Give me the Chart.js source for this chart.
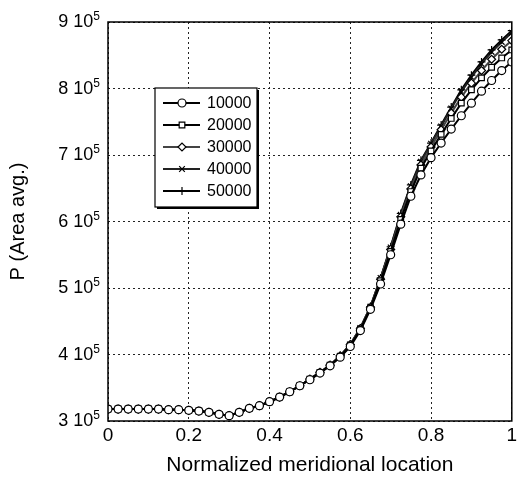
<!DOCTYPE html>
<html>
<head>
<meta charset="utf-8">
<script src="https://cdn.jsdelivr.net/npm/chart.js@4"></script>
<style>
  body { margin: 0; background: #fff; }
  #wrap { width: 517px; height: 491px; }
</style>
</head>
<body>
<div id="wrap"><canvas id="pChart" width="517" height="491"></canvas></div>
<script>
// Normalized meridional location
const xLoc = [0, 0.025, 0.05, 0.075, 0.1, 0.125, 0.15, 0.175, 0.2, 0.225, 0.25, 0.275, 0.3, 0.325, 0.35, 0.375, 0.4,
  0.425, 0.45, 0.475, 0.5, 0.525, 0.55, 0.575, 0.6, 0.625, 0.65, 0.675, 0.7, 0.725, 0.75, 0.775, 0.8, 0.825, 0.85,
  0.875, 0.9, 0.925, 0.95, 0.975, 1];

// Area averaged pressure, in units of 10^5
const p10000 = [3.18, 3.18, 3.18, 3.18, 3.18, 3.18, 3.17, 3.17, 3.16, 3.15, 3.13, 3.10, 3.08, 3.13, 3.19, 3.23, 3.29,
  3.36, 3.44, 3.53, 3.62, 3.72, 3.83, 3.96, 4.12, 4.36, 4.68, 5.06, 5.50, 5.96, 6.38, 6.70, 6.96, 7.18, 7.39,
  7.59, 7.78, 7.96, 8.12, 8.27, 8.40];
const p20000 = [3.18, 3.18, 3.18, 3.18, 3.18, 3.18, 3.17, 3.17, 3.16, 3.15, 3.13, 3.10, 3.08, 3.13, 3.19, 3.23, 3.29,
  3.36, 3.44, 3.53, 3.63, 3.73, 3.84, 3.97, 4.14, 4.38, 4.70, 5.11, 5.55, 6.03, 6.45, 6.80, 7.06, 7.31, 7.55,
  7.78, 7.98, 8.16, 8.32, 8.46, 8.58];
const p30000 = [3.18, 3.18, 3.18, 3.18, 3.18, 3.18, 3.17, 3.17, 3.16, 3.15, 3.13, 3.10, 3.08, 3.13, 3.19, 3.23, 3.29,
  3.36, 3.44, 3.53, 3.63, 3.73, 3.84, 3.98, 4.15, 4.39, 4.71, 5.13, 5.58, 6.07, 6.49, 6.85, 7.12, 7.38, 7.63,
  7.87, 8.08, 8.27, 8.44, 8.59, 8.72];
const p40000 = [3.18, 3.18, 3.18, 3.18, 3.18, 3.18, 3.17, 3.17, 3.16, 3.15, 3.13, 3.10, 3.08, 3.13, 3.19, 3.23, 3.29,
  3.36, 3.44, 3.53, 3.63, 3.73, 3.84, 3.98, 4.15, 4.40, 4.72, 5.15, 5.61, 6.10, 6.53, 6.90, 7.17, 7.43, 7.70,
  7.95, 8.17, 8.37, 8.55, 8.70, 8.84];
const p50000 = [3.18, 3.18, 3.18, 3.18, 3.18, 3.18, 3.17, 3.17, 3.16, 3.15, 3.13, 3.10, 3.08, 3.13, 3.19, 3.23, 3.29,
  3.36, 3.44, 3.53, 3.63, 3.73, 3.84, 3.98, 4.15, 4.40, 4.72, 5.15, 5.62, 6.12, 6.55, 6.92, 7.18, 7.45, 7.72,
  7.98, 8.20, 8.40, 8.58, 8.73, 8.87];

const seriesNames = ['10000', '20000', '30000', '40000', '50000'];
const seriesValues = [p10000, p20000, p30000, p40000, p50000];
const markers = ['circle', 'rect', 'rectRot', 'crossRot', 'cross'];
const lineColors = ['#000', '#000', '#444', '#222', '#000'];

const xTicks = [0, 0.2, 0.4, 0.6, 0.8, 1];
const yTicks = [3, 4, 5, 6, 7, 8, 9];
const yExponent = '5';

const FONT = 'Arial, "Liberation Sans", sans-serif';

const datasets = seriesNames.map((name, i) => ({
  label: name,
  data: xLoc.map((x, j) => ({ x, y: seriesValues[i][j] })),
  borderColor: lineColors[i],
  borderWidth: 2,
  pointStyle: markers[i],
  pointRadius: 4,
  pointBorderWidth: 1.2,
  pointBorderColor: '#000',
  pointBackgroundColor: '#fff',
  fill: false,
  tension: 0
}));

// y labels as "n 10^5" with a raised exponent, the frame, and the boxed legend
const framePlugin = {
  id: 'frameAndLegend',
  afterDraw(chart) {
    const { ctx, chartArea: a } = chart;
    const yScale = chart.scales.y;
    ctx.save();

    ctx.fillStyle = '#000';
    ctx.textBaseline = 'alphabetic';
    yTicks.forEach((v) => {
      const y = yScale.getPixelForValue(v);
      ctx.font = '12px ' + FONT;
      ctx.textAlign = 'right';
      ctx.fillText(yExponent, a.left - 8, y - 2);
      const expW = ctx.measureText(yExponent).width;
      ctx.font = '18px ' + FONT;
      ctx.fillText(v + ' 10', a.left - 8 - expW, y + 5);
    });

    ctx.strokeStyle = '#000';
    ctx.lineWidth = 1.5;
    ctx.strokeRect(a.left, a.top, a.right - a.left, a.bottom - a.top);

    const bx = a.left + 47, by = a.top + 66, bw = 102, bh = 119;
    ctx.fillStyle = '#000';
    ctx.fillRect(bx + 2, by + 2, bw, bh);
    ctx.fillStyle = '#fff';
    ctx.fillRect(bx, by, bw, bh);
    ctx.lineWidth = 1.2;
    ctx.strokeRect(bx, by, bw, bh);

    chart.data.datasets.forEach((ds, i) => {
      const y = by + 15 + i * 22;
      ctx.strokeStyle = ds.borderColor;
      ctx.lineWidth = 2;
      ctx.beginPath();
      ctx.moveTo(bx + 8, y);
      ctx.lineTo(bx + 45, y);
      ctx.stroke();
      ctx.strokeStyle = '#000';
      ctx.fillStyle = '#fff';
      ctx.lineWidth = 1.2;
      Chart.helpers.drawPoint(ctx, { pointStyle: ds.pointStyle, radius: 4, rotation: 0, borderWidth: 1.2 }, bx + 27, y);
      ctx.fillStyle = '#000';
      ctx.font = '16px ' + FONT;
      ctx.textBaseline = 'middle';
      ctx.textAlign = 'left';
      ctx.fillText(ds.label, bx + 52, y + 1);
    });
    ctx.restore();
  }
};

new Chart(document.getElementById('pChart'), {
  type: 'line',
  data: { datasets },
  options: {
    responsive: false,
    animation: false,
    layout: { padding: { top: 22, right: 2, left: 0, bottom: 0 } },
    plugins: { legend: { display: false }, tooltip: { enabled: false } },
    scales: {
      x: {
        type: 'linear',
        min: 0,
        max: 1,
        afterBuildTicks: (s) => { s.ticks = xTicks.map(v => ({ value: v })); },
        afterFit: (s) => { s.height = 70; s.paddingLeft = 0; s.paddingRight = 0; },
        ticks: {
          color: '#000',
          font: { family: FONT, size: 19 },
          padding: 3,
          maxRotation: 0,
          callback: (v) => String(v)
        },
        grid: { color: '#222', lineWidth: 1, drawTicks: false },
        border: { display: false, dash: [2, 3] },
        title: {
          display: true,
          text: 'Normalized meridional location',
          color: '#000',
          font: { family: FONT, size: 21 },
          padding: { top: 0, bottom: 13 }
        }
      },
      y: {
        type: 'linear',
        min: 3,
        max: 9,
        afterBuildTicks: (s) => { s.ticks = yTicks.map(v => ({ value: v })); },
        afterFit: (s) => { s.width = 108; },
        ticks: { display: false },
        grid: { color: '#222', lineWidth: 1, drawTicks: false },
        border: { display: false, dash: [2, 3] },
        title: {
          display: true,
          text: 'P (Area avg.)',
          color: '#000',
          font: { family: FONT, size: 20 },
          padding: { top: 6, bottom: 0 }
        }
      }
    }
  },
  plugins: [framePlugin]
});
</script>
</body>
</html>
